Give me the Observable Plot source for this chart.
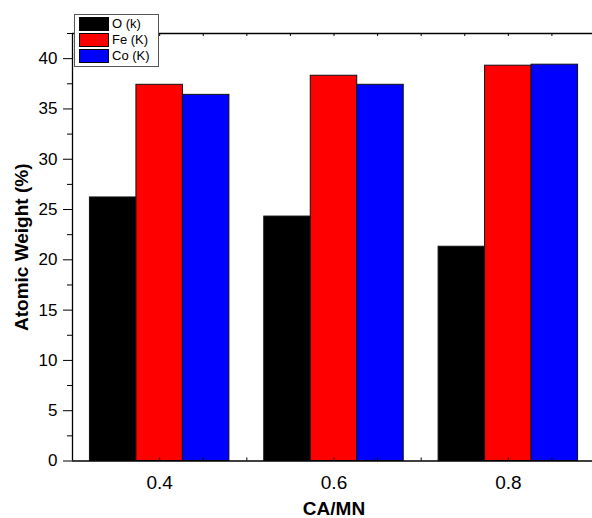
<!DOCTYPE html>
<html>
<head>
<meta charset="utf-8">
<script src="https://cdn.jsdelivr.net/npm/d3@7"></script>
<script src="https://cdn.jsdelivr.net/npm/@observablehq/plot@0.6"></script>
<style>
  html, body { margin: 0; padding: 0; overflow: hidden; background: #fff; }
  #wrap { position: relative; width: 592px; height: 518px; overflow: hidden; font-family: "Liberation Sans", Arial, sans-serif; }
  #wrap svg { max-width: none !important; width: 596px; height: 518px; display: block; }
  #legend { position: absolute; left: 74px; top: 14px; width: 85px; height: 53px; border: 1px solid #555; background: #fff; box-sizing: border-box; }
  .item { position: absolute; left: 4px; height: 14px; font-size: 13px; line-height: 14px; white-space: nowrap; }
  .sw { display: inline-block; width: 30px; height: 14px; box-sizing: border-box; border: 1px solid #000; vertical-align: top; margin-right: 3px; }
</style>
</head>
<body>
<div id="wrap"></div>
<script>
const categories = [0.4, 0.6, 0.8];
const seriesNames = ["O (k)", "Fe (K)", "Co (K)"];
const seriesColors = ["#000000", "#ff0000", "#0000ff"];
const oValues = [26.2, 24.3, 21.3];
const feValues = [37.4, 38.3, 39.3];
const coValues = [36.4, 37.4, 39.4];
const yMajorTicks = [0, 5, 10, 15, 20, 25, 30, 35, 40];
const yMinorTicks = [2.5, 7.5, 12.5, 17.5, 22.5, 27.5, 32.5, 37.5, 42.5];
const xTickLabels = [0.4, 0.6, 0.8];
const xMinorTicks = [0.35, 0.4, 0.45, 0.5, 0.55, 0.6, 0.65, 0.7, 0.75, 0.8, 0.85];

const seriesValues = [oValues, feValues, coValues];
const groupWidth = 0.16;
const barW = groupWidth / 3;
const rows = [];
seriesNames.forEach((s, i) => {
  categories.forEach((c, j) => {
    const x1 = c - groupWidth / 2 + i * barW;
    rows.push({series: s, ca: c, x1, x2: x1 + barW, value: seriesValues[i][j]});
  });
});

const yMax = 42.5;
const chart = Plot.plot({
  width: 596,
  height: 518,
  marginLeft: 72,
  marginRight: 1,
  marginTop: 33,
  marginBottom: 57.5,
  style: {fontFamily: "Liberation Sans, Arial, sans-serif", background: "transparent", overflow: "visible", maxWidth: "none"},
  x: {domain: [0.3, 0.9]},
  y: {domain: [0, yMax]},
  color: {domain: seriesNames, range: seriesColors},
  marks: [
    Plot.rectY(rows, {x1: "x1", x2: "x2", y: "value", fill: "series", stroke: "#111", strokeWidth: 1}),
    Plot.ruleY([0, yMax], {stroke: "#000", strokeWidth: 1.3}),
    Plot.ruleX([0.3], {stroke: "#000", strokeWidth: 1.3}),
    Plot.ruleX(xMinorTicks, {y1: 0, y2: 0.3, stroke: "#000"}),
    Plot.ruleX(xMinorTicks, {y1: yMax, y2: yMax - 0.3, stroke: "#000"}),
    Plot.axisY({ticks: yMajorTicks, tickSize: 9, tickPadding: 6, fontSize: 17, label: null, tickFormat: d => String(d), color: "#000"}),
    Plot.axisY({ticks: yMinorTicks, tickSize: 5, tickFormat: null, text: null, label: null}),
    Plot.axisX({ticks: xTickLabels, tickSize: 0, tickPadding: 14, fontSize: 19, label: null, tickFormat: d => d.toFixed(1), color: "#000"}),
    Plot.text(["Atomic Weight (%)"], {frameAnchor: "left", dx: -51, rotate: -90, fontSize: 19, fontWeight: "bold", fill: "#000", textAnchor: "middle", lineAnchor: "middle"}),
    Plot.text(["CA/MN"], {frameAnchor: "bottom", dy: 40, fontSize: 19, fontWeight: "bold", fill: "#000", textAnchor: "middle", lineAnchor: "top"})
  ]
});
const wrap = document.getElementById("wrap");
wrap.appendChild(chart);

const legend = document.createElement("div");
legend.id = "legend";
seriesNames.forEach((s, i) => {
  const it = document.createElement("div");
  it.className = "item";
  it.style.top = (2 + i * 16) + "px";
  const sw = document.createElement("span");
  sw.className = "sw";
  sw.style.background = seriesColors[i];
  it.appendChild(sw);
  it.appendChild(document.createTextNode(s));
  legend.appendChild(it);
});
wrap.appendChild(legend);
</script>
</body>
</html>
